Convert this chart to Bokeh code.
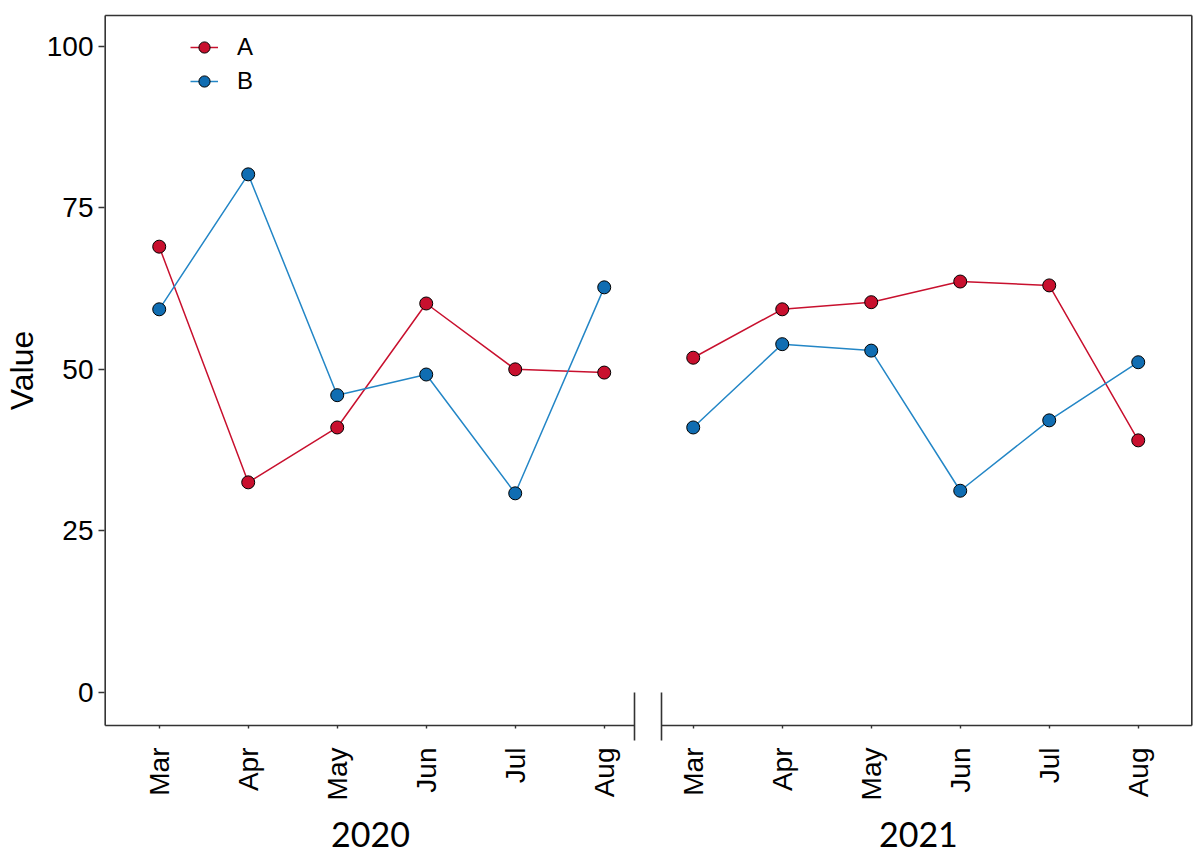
import math
from bokeh.plotting import figure
from bokeh.models import FixedTicker, LinearAxis, Legend, LegendItem
from bokeh.embed import file_html
from bokeh.resources import INLINE

# ---------------- data ----------------
months = ["Mar", "Apr", "May", "Jun", "Jul", "Aug"]
years = ["2020", "2021"]
a_2020 = [69.0, 32.5, 41.0, 60.2, 50.0, 49.5]
a_2021 = [51.8, 59.3, 60.4, 63.6, 63.0, 39.0]
b_2020 = [59.3, 80.2, 46.0, 49.2, 30.8, 62.7]
b_2021 = [41.0, 53.9, 52.9, 31.2, 42.1, 51.1]
y_ticks = [0, 25, 50, 75, 100]

x_2020 = list(range(0, 6))
x_2021 = list(range(6, 12))
tick_pos = x_2020 + x_2021
tick_labels = months + months

# ---------------- layout constants ----------------
RED = "#C8102E"
BLUE_LINE = "#2386C6"
BLUE_PT = "#106DB2"
BOX = "#333333"
FONT = "Liberation Sans"

X_RANGE = (-0.626, 11.621)
Y_RANGE = (-5.467, 105.11)
XL, XR = -0.607, 11.602
YB, YT = -5.157, 104.80
BRK = [5.337, 5.644]
YEAR_POS = [2.374, 8.53]

p = figure(frame_width=1090, frame_height=714,
           x_range=X_RANGE, y_range=Y_RANGE,
           output_backend="svg", toolbar_location=None,
           min_border_left=101, min_border_top=13,
           min_border_right=1, min_border_bottom=128)
p.outline_line_color = None
p.grid.visible = False
p.background_fill_color = "white"

# y axis
ya = p.yaxis[0]
ya.ticker = FixedTicker(ticks=y_ticks)
ya.axis_line_color = None
ya.major_tick_out = 5
ya.major_tick_in = 1
ya.major_tick_line_color = BOX
ya.major_tick_line_width = 1.5
ya.minor_tick_line_color = None
ya.major_label_standoff = 5
ya.major_label_text_font = FONT
ya.major_label_text_font_size = "28px"
ya.major_label_text_color = "black"
ya.axis_label = "Value"
ya.axis_label_standoff = 4
ya.axis_label_text_font = FONT
ya.axis_label_text_font_size = "32px"
ya.axis_label_text_font_style = "normal"
ya.axis_label_text_color = "black"

# x axis (months), minor ticks draw the axis-break marks
xa = p.xaxis[0]
xa.ticker = FixedTicker(ticks=tick_pos, minor_ticks=BRK)
xa.major_label_overrides = {i: lab for i, lab in zip(tick_pos, tick_labels)}
xa.major_label_orientation = math.pi / 2
xa.axis_line_color = None
xa.major_tick_line_color = BOX
xa.major_tick_line_width = 1.4
xa.major_tick_out = 1
xa.major_tick_in = 2
xa.minor_tick_line_color = BOX
xa.minor_tick_line_width = 1.6
xa.minor_tick_out = 13
xa.minor_tick_in = 35
xa.major_label_standoff = 7
xa.major_label_text_font = FONT
xa.major_label_text_font_size = "28px"
xa.major_label_text_color = "black"

# year axis
year_axis = LinearAxis(ticker=FixedTicker(ticks=YEAR_POS),
                       major_label_overrides={pos: y for pos, y in zip(YEAR_POS, years)},
                       axis_line_color=None, major_tick_line_color=None,
                       major_tick_out=0, major_tick_in=0,
                       minor_tick_line_color=None,
                       major_label_standoff=18,
                       major_label_text_font="Lato",
                       major_label_text_font_size="34px",
                       major_label_text_color="black")
p.add_layout(year_axis, "below")

# panel box with the axis break
p.segment(x0=[XL, XR, XL, XL, BRK[1]], y0=[YB, YB, YT, YB, YB],
          x1=[XL, XR, XR, BRK[0], XR], y1=[YT, YT, YT, YB, YB],
          line_color=BOX, line_width=1.6)

# series
la1 = p.line(x_2020, a_2020, line_color=RED, line_width=1.5)
la2 = p.line(x_2021, a_2021, line_color=RED, line_width=1.5)
lb1 = p.line(x_2020, b_2020, line_color=BLUE_LINE, line_width=1.5)
lb2 = p.line(x_2021, b_2021, line_color=BLUE_LINE, line_width=1.5)
sa = p.scatter(tick_pos, a_2020 + a_2021, size=13, fill_color=RED,
               line_color="black", line_width=1)
sb = p.scatter(tick_pos, b_2020 + b_2021, size=13, fill_color=BLUE_PT,
               line_color="black", line_width=1)

legend = Legend(items=[LegendItem(label="A", renderers=[la1, sa]),
                       LegendItem(label="B", renderers=[lb1, sb])],
                location=(87, 631), padding=0, spacing=4,
                glyph_width=28, glyph_height=30, label_standoff=19,
                label_text_font=FONT, label_text_font_size="24px",
                label_text_color="black",
                border_line_color=None, background_fill_alpha=0)
p.add_layout(legend)

open("out.html", "w").write(file_html(p, INLINE))
